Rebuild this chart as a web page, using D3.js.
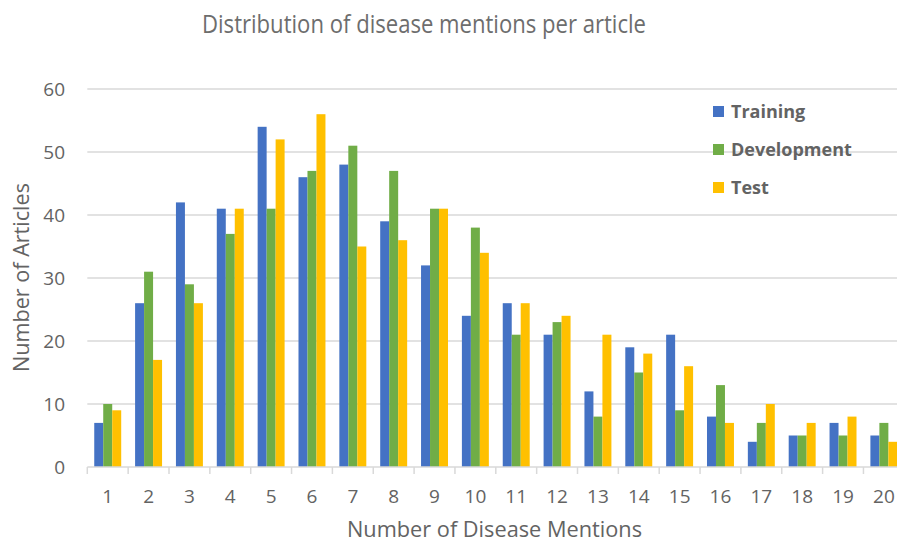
<!DOCTYPE html>
<html>
<head>
<meta charset="utf-8">
<script src="https://cdn.jsdelivr.net/npm/d3@7"></script>
<style>
  body { margin: 0; background: #fff; }
  text { font-family: 'Open Sans', sans-serif; }
</style>
</head>
<body>
<div id="chart"></div>
<script>
// Chart data
const mentions = ['1', '2', '3', '4', '5', '6', '7', '8', '9', '10',
  '11', '12', '13', '14', '15', '16', '17', '18', '19', '20'];
const seriesNames = ['Training', 'Development', 'Test'];
const training = [7, 26, 42, 41, 54, 46, 48, 39, 32, 24, 26, 21, 12, 19, 21, 8, 4, 5, 7, 5];
const development = [10, 31, 29, 37, 41, 47, 51, 47, 41, 38, 21, 23, 8, 15, 9, 13, 7, 5, 5, 7];
const test = [9, 17, 26, 41, 52, 56, 35, 36, 41, 34, 26, 24, 21, 18, 16, 7, 10, 7, 8, 4];
const yTicks = [0, 10, 20, 30, 40, 50, 60];

const colors = ['#4472C4', '#70AD47', '#FFC000'];
const textColor = '#636363';

const rows = mentions.map((m, i) => ({
  mention: m,
  values: [training[i], development[i], test[i]],
}));

// Chart dimensions
const width = 897;
const height = 542;
const plot = { left: 87.3, right: 904.3, top: 89, bottom: 467 };

const svg = d3
  .select('#chart')
  .append('svg')
  .attr('width', width)
  .attr('height', height);

// Chart scales
const x = d3
  .scaleBand()
  .domain(mentions)
  .range([plot.left, plot.right])
  .paddingInner(0.34)
  .paddingOuter(0.17);
const xSeries = d3
  .scaleBand()
  .domain(seriesNames)
  .range([0, x.bandwidth()]);
const y = d3.scaleLinear().domain([0, 60]).range([plot.bottom, plot.top]);

// Gridlines
svg
  .append('g')
  .selectAll('line')
  .data(yTicks.filter((t) => t > 0))
  .enter()
  .append('line')
  .attr('x1', plot.left)
  .attr('x2', width)
  .attr('y1', (d) => y(d))
  .attr('y2', (d) => y(d))
  .attr('stroke', '#d9d9d9')
  .attr('stroke-width', 1.5);

// Y-axis labels
svg
  .append('g')
  .selectAll('text')
  .data(yTicks)
  .enter()
  .append('text')
  .attr('x', 65)
  .attr('y', (d) => y(d))
  .attr('dy', '0.35em')
  .attr('text-anchor', 'end')
  .style('font-size', '19px')
  .style('fill', textColor)
  .text((d) => d);

// Bars
const groups = svg
  .append('g')
  .selectAll('g')
  .data(rows)
  .enter()
  .append('g')
  .attr('transform', (d) => `translate(${x(d.mention)},0)`);

groups
  .selectAll('rect')
  .data((d) => d.values.map((v, i) => ({ name: seriesNames[i], value: v, i })))
  .enter()
  .append('rect')
  .attr('x', (d) => xSeries(d.name))
  .attr('y', (d) => y(d.value))
  .attr('width', xSeries.bandwidth())
  .attr('height', (d) => y(0) - y(d.value))
  .attr('fill', (d) => colors[d.i]);

// X-axis
const xAxis = svg
  .append('g')
  .attr('transform', `translate(0, ${plot.bottom})`)
  .call(d3.axisBottom(x).tickSize(0).tickPadding(23));
xAxis.select('.domain').attr('stroke', '#d9d9d9').attr('stroke-width', 1.5)
  .attr('d', `M${plot.left},0H${width}`);
xAxis
  .selectAll('.tick text')
  .style('font-size', '19px')
  .style('font-family', "'Open Sans', sans-serif")
  .style('fill', textColor);
// category boundary ticks
xAxis
  .append('g')
  .selectAll('line')
  .data(mentions)
  .enter()
  .append('line')
  .attr('x1', (d) => x(d) - (x.step() - x.bandwidth()) / 2)
  .attr('x2', (d) => x(d) - (x.step() - x.bandwidth()) / 2)
  .attr('y1', 0)
  .attr('y2', 7)
  .attr('stroke', '#d9d9d9')
  .attr('stroke-width', 1.5);

// Titles
svg
  .append('text')
  .attr('x', 424)
  .attr('y', 33)
  .attr('text-anchor', 'middle')
  .attr('textLength', 444)
  .attr('lengthAdjust', 'spacingAndGlyphs')
  .style('font-size', '26px')
  .style('fill', '#6d6d6d')
  .text('Distribution of disease mentions per article');

svg
  .append('text')
  .attr('x', 494.5)
  .attr('y', 537)
  .attr('text-anchor', 'middle')
  .attr('textLength', 295)
  .attr('lengthAdjust', 'spacingAndGlyphs')
  .style('font-size', '21px')
  .style('fill', textColor)
  .text('Number of Disease Mentions');

svg
  .append('text')
  .attr('transform', 'translate(29, 277.5) rotate(-90)')
  .attr('text-anchor', 'middle')
  .attr('textLength', 189)
  .attr('lengthAdjust', 'spacingAndGlyphs')
  .style('font-size', '22px')
  .style('fill', textColor)
  .text('Number of Articles');

// Legend
const legend = svg
  .append('g')
  .selectAll('g')
  .data(seriesNames)
  .enter()
  .append('g')
  .attr('transform', (d, i) => `translate(713, ${111.5 + i * 38})`);
legend
  .append('rect')
  .attr('x', 0)
  .attr('y', -5.5)
  .attr('width', 11)
  .attr('height', 11)
  .attr('fill', (d, i) => colors[i]);
legend
  .append('text')
  .attr('x', 18)
  .attr('y', 0)
  .attr('dy', '0.35em')
  .style('font-size', '18px')
  .style('font-weight', 'bold')
  .style('fill', textColor)
  .text((d) => d);
</script>
</body>
</html>
